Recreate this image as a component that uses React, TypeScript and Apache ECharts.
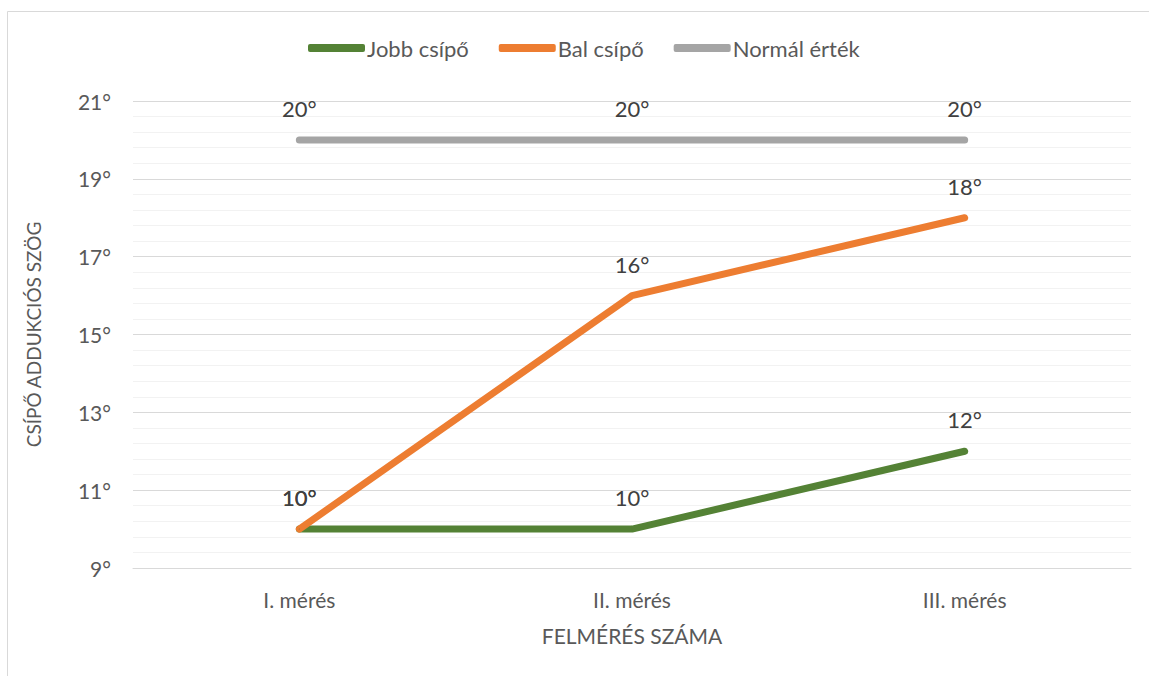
import React, { useEffect, useRef } from "react";
import * as echarts from "echarts";

// Measurement sessions and hip adduction angles (degrees)
const categories = ["I. mérés", "II. mérés", "III. mérés"];
const jobbCsipo = [10, 10, 12];
const balCsipo = [10, 16, 18];
const normalErtek = [20, 20, 20];

const seriesNames = ["Jobb csípő", "Bal csípő", "Normál érték"];
const seriesColors = ["#548235", "#ED7D31", "#A5A5A5"];

const FONT = "Lato, 'Open Sans', sans-serif";

export default function App() {
  const ref = useRef<HTMLDivElement>(null);

  useEffect(() => {
    if (!ref.current) return;
    const chart = echarts.init(ref.current, undefined, { renderer: "svg" });

    const makeSeries = (name: string, data: number[], color: string) => ({
      name,
      type: "line",
      data,
      symbol: "circle",
      symbolSize: 1,
      itemStyle: { color },
      lineStyle: { color, width: 7, cap: "round", join: "round" },
      label: {
        show: true,
        position: "top",
        distance: 20,
        formatter: "{c}°",
        color: "#404040",
        fontSize: 22,
        fontFamily: FONT,
      },
      emphasis: { disabled: true },
    });

    chart.setOption({
      animation: false,
      textStyle: { fontFamily: FONT },
      graphic: [
        {
          type: "rect",
          shape: { x: 7.5, y: 11.5, width: 1170, height: 700 },
          style: { fill: "none", stroke: "#D9D9D9", lineWidth: 1 },
          silent: true,
        },
      ],
      legend: {
        top: 32,
        left: 303,
        icon: "roundRect",
        itemWidth: 57,
        itemHeight: 8,
        itemGap: 30,
        textStyle: { color: "#595959", fontSize: 22, fontFamily: FONT, padding: [0, 0, 0, -3] },
        data: seriesNames,
      },
      grid: { left: 133, right: 18, top: 101, bottom: 108 },
      xAxis: {
        type: "category",
        data: categories,
        boundaryGap: true,
        axisLine: { show: true, lineStyle: { color: "#D9D9D9", width: 1 } },
        axisTick: { show: false },
        axisLabel: { color: "#595959", fontSize: 21, margin: 21, fontFamily: FONT },
        name: "FELMÉRÉS SZÁMA",
        nameLocation: "middle",
        nameGap: 57,
        nameTextStyle: { color: "#595959", fontSize: 21, fontFamily: FONT },
      },
      yAxis: {
        type: "value",
        min: 9,
        max: 21,
        interval: 2,
        axisLine: { show: false },
        axisTick: { show: false },
        axisLabel: {
          color: "#595959",
          fontSize: 21,
          margin: 22,
          fontFamily: FONT,
          formatter: "{value}°",
        },
        splitLine: { show: true, lineStyle: { color: "#D9D9D9", width: 1 } },
        minorTick: { show: false, splitNumber: 5 },
        minorSplitLine: { show: true, lineStyle: { color: "#F2F2F2", width: 1 } },
        name: "CSÍPŐ ADDUKCIÓS SZÖG",
        nameLocation: "middle",
        nameGap: 90,
        nameTextStyle: { color: "#595959", fontSize: 19, fontFamily: FONT },
      },
      series: [
        makeSeries(seriesNames[0], jobbCsipo, seriesColors[0]),
        makeSeries(seriesNames[1], balCsipo, seriesColors[1]),
        makeSeries(seriesNames[2], normalErtek, seriesColors[2]),
      ],
    });

    return () => chart.dispose();
  }, []);

  return (
    <div
      ref={ref}
      style={{ position: "absolute", left: 0, top: 0, width: 1149, height: 676, background: "#fff" }}
    />
  );
}
